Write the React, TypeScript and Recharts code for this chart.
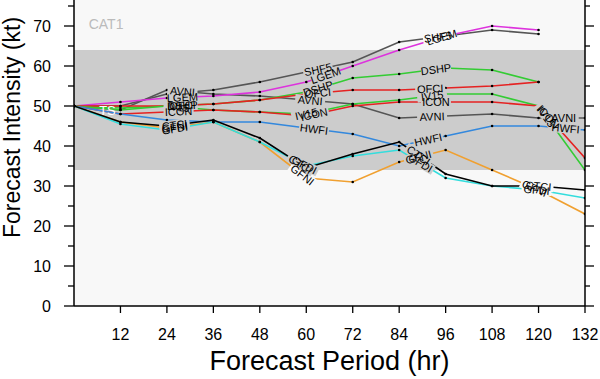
import React from "react";
import { LineChart, Line, XAxis, YAxis, ReferenceArea, ReferenceDot } from "recharts";

const hours = [0, 12, 24, 36, 48, 60, 72, 84, 96, 108, 120, 132];
const xTicks = [12, 24, 36, 48, 60, 72, 84, 96, 108, 120, 132];
const yTicks = [0, 5, 10, 15, 20, 25, 30, 35, 40, 45, 50, 55, 60, 65, 70, 75];

// intensity forecasts (kt) per model
const avni = [50, 49, 54, 53, 52.5, 51.5, 50.5, 47, 47.5, 48, 47, 47];
const shf5 = [50, 50, 53, 54, 56, 58.5, 61, 66, 67.5, 69, 68, null];
const lgem = [50, 51, 52, 52.5, 53.5, 56, 60, 64, 67.5, 70, 69, null];
const dshp = [50, 49.5, 50, 50.5, 51.5, 53.5, 57, 58, 59.5, 59, 56, null];
const ofci = [50, 50, 50, 50.5, 51.5, 53, 54, 54, 54.5, 55, 56, null];
const iv15 = [50, 49, 50, 49, 48.5, 48, 50.5, 51.5, 53, 53, 50, 34];
const icon = [50, 48, 48.5, 49, 48.5, 47.5, 50, 51, 51, 51, 50, 37];
const hwfi = [50, 48, 46.5, 46, 46, 44.5, 43, 40, 42.5, 45, 45, 44];
const gfni = [50, 46, 44.5, 46, 41, 32, 31, 36, 39, 34, 29, 23];
const gfdi = [50, 45.5, 44, 46, 41, 35, 37.5, 39, 32, 30, 29, 27];
const ctci = [50, 46, 45, 46.5, 42, 34.5, 38, 41, 33, 30, 30, 29];

// where each model's name is written along its line (hours)
const avniTags = [28, 61, 92.5, 126.5];
const shf5Tags = [63, 94];
const lgemTags = [28, 65, 95];
const dshpTags = [28, 63, 93.5];
const ofciTags = [28, 63, 92];
const iv15Tags = [27, 60, 92.5, 122];
const iconTags = [27, 62, 93.5, 122.5];
const hwfiTags = [62, 91.5, 127];
const gfniTags = [26, 59, 89, 119];
const gfdiTags = [26, 59.5, 89.5, 119.5];
const ctciTags = [26, 58.5, 89, 120];

const series = [
  { key: "AVNI", values: avni, color: "#555555", tags: avniTags },
  { key: "SHF5", values: shf5, color: "#555555", tags: shf5Tags },
  { key: "LGEM", values: lgem, color: "#dd33dd", tags: lgemTags },
  { key: "DSHP", values: dshp, color: "#33cc33", tags: dshpTags },
  { key: "OFCI", values: ofci, color: "#e52222", tags: ofciTags },
  { key: "IV15", values: iv15, color: "#33cc33", tags: iv15Tags },
  { key: "ICON", values: icon, color: "#e52222", tags: iconTags },
  { key: "HWFI", values: hwfi, color: "#3388dd", tags: hwfiTags },
  { key: "GFNI", values: gfni, color: "#f0a030", tags: gfniTags },
  { key: "GFDI", values: gfdi, color: "#33dddd", tags: gfdiTags },
  { key: "CTCI", values: ctci, color: "#000000", tags: ctciTags },
];

const data = hours.map((h, i) => {
  const row: Record<string, number | null> = { hour: h };
  series.forEach((s) => (row[s.key] = s.values[i]));
  return row;
});

const FONT = "'Liberation Sans', Arial, sans-serif";
const W = 600;
const H = 379;
const LEFT = 74;
const RIGHT = 585;
const BOTTOM = 306;
const Y_MAX = 76.5;
const BAND_LO = 34;
const BAND_HI = 64;
const PX_PER_HR = (RIGHT - LEFT) / 132;
const PX_PER_KT = BOTTOM / Y_MAX;

// position + slope of a line at an arbitrary hour, used only to place name tags
function along(values: (number | null)[], h: number) {
  let i = Math.min(Math.floor(h / 12), hours.length - 2);
  let a = values[i] as number;
  let b = values[i + 1];
  if (b == null) {
    i = i - 1;
    b = a;
    a = values[i] as number;
  }
  const t = (h - hours[i]) / 12;
  const slope = ((b as number) - a) / 12;
  const angle = (-Math.atan((slope * PX_PER_KT) / PX_PER_HR) * 180) / Math.PI;
  return { y: a + ((b as number) - a) * t, angle };
}

const tagList = series.flatMap((s) =>
  s.tags.map((h) => {
    const p = along(s.values, h);
    return { name: s.key, h, y: p.y, angle: p.angle };
  }),
);

function renderLeftTick(props: any) {
  const { y, payload } = props;
  const major = payload.value % 10 === 0;
  return (
    <g>
      <line x1={LEFT - (major ? 10 : 6)} x2={LEFT} y1={y} y2={y} stroke="#000" strokeWidth={1.3} />
      {major ? (
        <text x={LEFT - 23} y={y} dy={6} textAnchor="end" fontSize={16} fontFamily={FONT} fill="#000">
          {String(payload.value)}
        </text>
      ) : null}
    </g>
  );
}

function renderRightTick(props: any) {
  const { y, payload } = props;
  const major = payload.value % 10 === 0;
  return <line x1={RIGHT} x2={RIGHT + (major ? 9 : 5)} y1={y} y2={y} stroke="#000" strokeWidth={1.3} />;
}

function renderBottomTick(props: any) {
  const { x, payload } = props;
  return (
    <g>
      <line x1={x} x2={x} y1={BOTTOM} y2={BOTTOM + 7} stroke="#000" strokeWidth={1.3} />
      <text x={x} y={BOTTOM + 34} textAnchor="middle" fontSize={16} fontFamily={FONT} fill="#000">
        {String(payload.value)}
      </text>
    </g>
  );
}

export default function App() {
  return (
    <div style={{ position: "absolute", left: 0, top: 0, width: W, height: H, background: "#fff" }}>
      <LineChart width={W} height={H} data={data} margin={{ top: 0, right: 0, bottom: 0, left: 0 }}>
        <XAxis
          dataKey="hour"
          type="number"
          domain={[0, 132]}
          ticks={xTicks}
          interval={0}
          height={H - BOTTOM}
          tick={renderBottomTick}
          tickLine={false}
          axisLine={{ stroke: "#000", strokeWidth: 1.5 }}
          allowDataOverflow
        />
        <YAxis
          yAxisId="l"
          type="number"
          domain={[0, Y_MAX]}
          ticks={yTicks}
          interval={0}
          width={LEFT}
          tick={renderLeftTick}
          tickLine={false}
          axisLine={{ stroke: "#000", strokeWidth: 1.5 }}
          allowDataOverflow
        />
        <YAxis
          yAxisId="r"
          orientation="right"
          type="number"
          domain={[0, Y_MAX]}
          ticks={yTicks}
          interval={0}
          width={W - RIGHT}
          tick={renderRightTick}
          tickLine={false}
          axisLine={{ stroke: "#000", strokeWidth: 1.5 }}
          allowDataOverflow
        />

        <ReferenceArea yAxisId="l" x1={0} x2={132} y1={0} y2={Y_MAX} fill="#f8f8f8" fillOpacity={1} stroke="none" />
        <ReferenceArea yAxisId="l" x1={0} x2={132} y1={BAND_LO} y2={BAND_HI} fill="#cccccc" fillOpacity={1} stroke="none" />
        <ReferenceDot
          yAxisId="l"
          x={3.8}
          y={70.5}
          r={0}
          shape={(p: any) => (
            <text x={p.cx} y={p.cy} dy={5} fontSize={14} fontFamily={FONT} fill="#bbbbbb">
              CAT1
            </text>
          )}
        />
        <ReferenceDot
          yAxisId="l"
          x={6.5}
          y={49}
          r={0}
          shape={(p: any) => (
            <text x={p.cx} y={p.cy} dy={5} fontSize={13} fontFamily={FONT} fill="#ffffff">
              TS
            </text>
          )}
        />

        {series.map((s) => (
          <Line
            key={s.key}
            yAxisId="l"
            type="linear"
            dataKey={s.key}
            stroke={s.color}
            strokeWidth={1.6}
            dot={{ r: 1.3, fill: "#000", stroke: "none" }}
            activeDot={false}
            connectNulls={false}
            isAnimationActive={false}
          />
        ))}

        {tagList.map((t, i) => (
          <ReferenceDot
            key={`bg${i}`}
            yAxisId="l"
            x={t.h}
            y={t.y}
            r={0}
            shape={(p: any) => {
              const w = t.name.length * 7 + 2;
              const bg = t.y >= BAND_LO && t.y <= BAND_HI ? "#cccccc" : "#f8f8f8";
              return (
                <g transform={`translate(${p.cx},${p.cy}) rotate(${t.angle})`}>
                  <rect x={-w / 2} y={-5} width={w} height={10} fill={bg} />
                </g>
              );
            }}
          />
        ))}
        {tagList.map((t, i) => (
          <ReferenceDot
            key={`tx${i}`}
            yAxisId="l"
            x={t.h}
            y={t.y}
            r={0}
            shape={(p: any) => (
              <g transform={`translate(${p.cx},${p.cy}) rotate(${t.angle})`}>
                <text x={0} y={0} dy={4} textAnchor="middle" fontSize={11} fontFamily={FONT} fill="#000">
                  {t.name}
                </text>
              </g>
            )}
          />
        ))}
      </LineChart>
      <div
        style={{
          position: "absolute",
          left: 0,
          top: 0,
          width: 26,
          height: 254,
          display: "flex",
          alignItems: "center",
          justifyContent: "center",
        }}
      >
        <span
          style={{
            transform: "rotate(-90deg)",
            whiteSpace: "nowrap",
            fontFamily: FONT,
            fontSize: 23,
            color: "#000",
          }}
        >
          Forecast Intensity (kt)
        </span>
      </div>
      <div
        style={{
          position: "absolute",
          left: LEFT,
          width: RIGHT - LEFT,
          top: 345,
          textAlign: "center",
          fontFamily: FONT,
          fontSize: 27,
          color: "#000",
          lineHeight: "32px",
        }}
      >
        Forecast Period (hr)
      </div>
    </div>
  );
}
